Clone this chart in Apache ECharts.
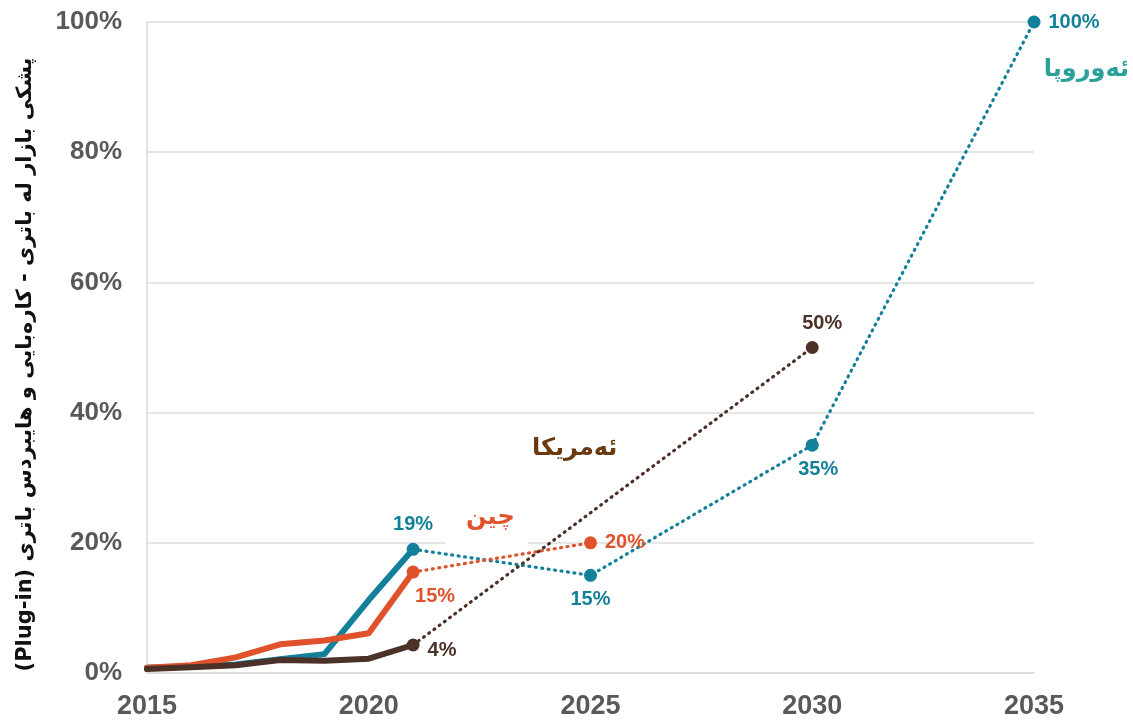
<!DOCTYPE html>
<html>
<head>
<meta charset="utf-8">
<script src="https://cdn.jsdelivr.net/npm/echarts@6/dist/echarts.min.js"></script>
<style>
  html, body { margin: 0; padding: 0; background: #fff; }
  #main { width: 1133px; height: 720px; }
</style>
</head>
<body>
<div id="main"></div>
<script>
// history (solid lines)
const years = [2015, 2016, 2017, 2018, 2019, 2020, 2021]
const europeHist = [0.8, 1.0, 1.3, 2.1, 2.9, 11.2, 19]
const chinaHist = [0.8, 1.2, 2.4, 4.4, 5.0, 6.1, 15.5]
const usHist = [0.6, 0.9, 1.2, 2.0, 1.9, 2.2, 4.3]

// targets (dotted lines)
const europeProjYears = [2021, 2025, 2030, 2035]
const europeProj = [19, 15, 35, 100]
const europeProjText = ['19%', '15%', '35%', '100%']
const chinaProjYears = [2021, 2025]
const chinaProj = [15.5, 20]
const chinaProjText = ['15%', '20%']
const usProjYears = [2021, 2030]
const usProj = [4.3, 50]
const usProjText = ['4%', '50%']

const xTicks = [2015, 2020, 2025, 2030, 2035]
const yTicks = [0, 20, 40, 60, 80, 100]

const yName = '(Plug-in) پشکی بازار لە باتری - کارەبایی و هایبردس باتری'
const nameEurope = 'ئەوروپا'
const nameChina = 'چین'
const nameUS = 'ئەمریکا'

const TEAL = '#13809a'
const ORANGE = '#e0522b'
const BROWN = '#4b3128'

const pair = (xs, ys) => xs.map((x, i) => [x, ys[i]])

// per-point label placement for the dotted series
function projData(xs, ys, texts, color, places) {
  return xs.map((x, i) => ({
    value: [x, ys[i]],
    label: {
      show: true,
      formatter: texts[i],
      color: color,
      ...places[i]
    }
  }))
}

const labelFont = { fontFamily: 'Liberation Sans, Arial, sans-serif', fontWeight: 'bold', fontSize: 20 }

function solid(name, data, color) {
  return {
    name, type: 'line', data: pair(years, data), symbol: 'none',
    lineStyle: { color, width: 6, cap: 'round', join: 'round' },
    z: 3
  }
}

function dotted(name, data, color) {
  return {
    name, type: 'line', data, symbol: 'circle', symbolSize: 13,
    itemStyle: { color },
    lineStyle: { color, width: 3.2, type: [1, 5.5], cap: 'round' },
    label: { ...labelFont },
    z: 2
  }
}

const myChart = echarts.init(document.getElementById('main'))
myChart.setOption({
  animation: false,
  grid: { left: 147, right: 99, top: 22, bottom: 47, outerBoundsMode: 'none', containLabel: false },
  xAxis: {
    type: 'value', min: xTicks[0], max: xTicks[xTicks.length - 1], interval: 5,
    axisLine: { show: true, lineStyle: { color: '#d9d9d9', width: 1.5 } },
    axisTick: { show: false },
    splitLine: { show: false },
    axisLabel: {
      color: '#595959', fontSize: 27, fontWeight: 'bold', margin: 20,
      fontFamily: 'Liberation Sans, Arial, sans-serif',
      formatter: v => String(v)
    }
  },
  yAxis: {
    type: 'value', min: yTicks[0], max: yTicks[yTicks.length - 1], interval: 20,
    name: yName, nameLocation: 'middle', nameGap: 111, nameRotate: 90,
    nameTextStyle: {
      color: '#111', fontSize: 21, fontWeight: 'bold', fontFamily: 'DejaVu Sans, sans-serif',
      padding: [0, 34, 0, 0]
    },
    axisLine: { show: true, lineStyle: { color: '#d9d9d9', width: 1.5 } },
    axisTick: { show: false },
    splitLine: { lineStyle: { color: '#dcdcdc', width: 1.5 } },
    axisLabel: {
      color: '#595959', fontSize: 26, fontWeight: 'bold', margin: 25,
      fontFamily: 'Liberation Sans, Arial, sans-serif',
      formatter: '{value}%'
    }
  },
  graphic: [
    { type: 'rect', left: 445, top: 540, shape: { width: 83, height: 6 }, style: { fill: '#fff' }, z: 1 },
    { type: 'text', right: 4, top: 58, style: { text: nameEurope, fill: '#2aa19b', font: 'bold 24px DejaVu Sans' }, z: 5 },
    { type: 'text', left: 466, top: 506, style: { text: nameChina, fill: ORANGE, font: 'bold 24px DejaVu Sans' }, z: 5 },
    { type: 'text', left: 532, top: 437, style: { text: nameUS, fill: '#6b3a10', font: 'bold 24px DejaVu Sans' }, z: 5 }
  ],
  series: [
    dotted('europe-target', projData(europeProjYears, europeProj, europeProjText, TEAL, [
      { position: 'top', distance: 8 },
      { position: 'bottom', distance: 8 },
      { position: 'bottom', distance: 8, offset: [6, 0] },
      { position: 'right', distance: 8 }
    ]), TEAL),
    dotted('china-target', projData(chinaProjYears, chinaProj, chinaProjText, ORANGE, [
      { position: 'bottom', distance: 8, offset: [22, 0] },
      { position: 'right', distance: 8 }
    ]), ORANGE),
    dotted('us-target', projData(usProjYears, usProj, usProjText, BROWN, [
      { position: 'right', distance: 8, offset: [0, 5] },
      { position: 'top', distance: 8, offset: [10, 0] }
    ]), BROWN),
    solid('europe', europeHist, TEAL),
    solid('china', chinaHist, ORANGE),
    solid('us', usHist, BROWN)
  ]
})
window.addEventListener('resize', () => { myChart.resize() })
</script>
</body>
</html>
